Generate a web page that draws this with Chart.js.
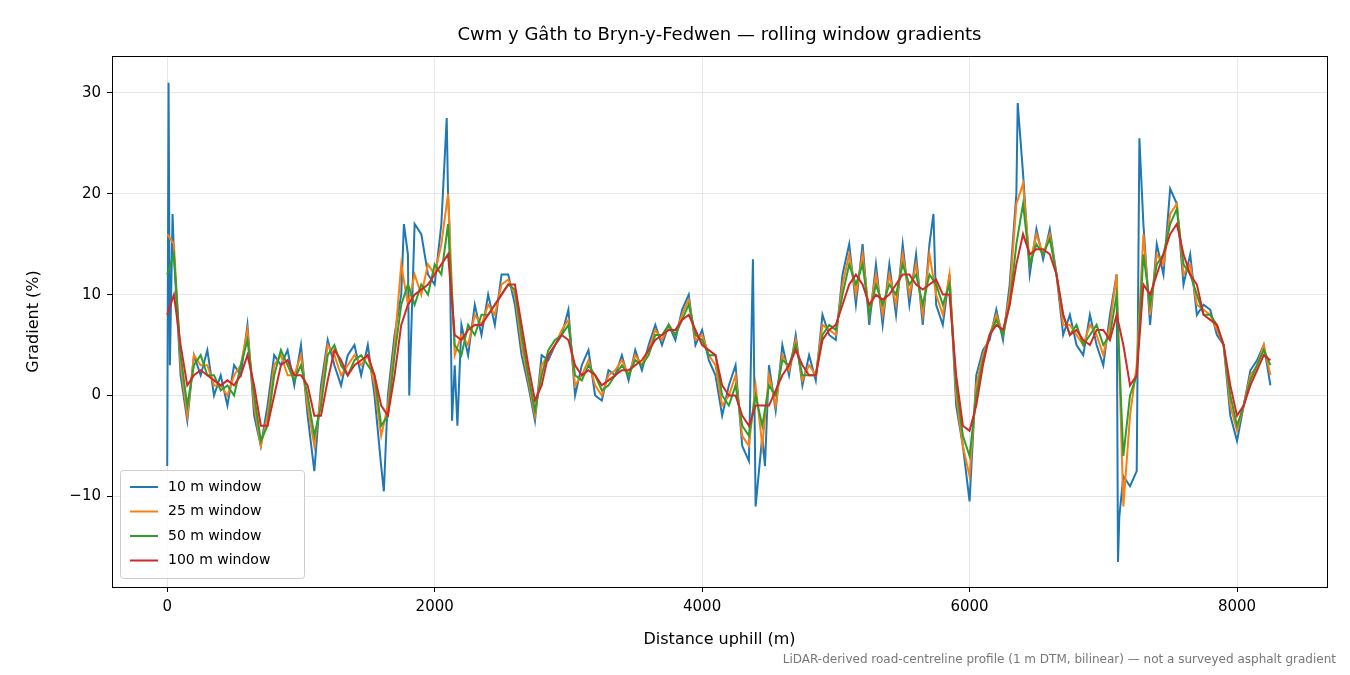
<!DOCTYPE html>
<html><head><meta charset="utf-8">
<script src="https://cdn.jsdelivr.net/npm/chart.js@4/dist/chart.umd.min.js"></script>
<style>html,body{margin:0;padding:0;background:#fff}#w{width:1350px;height:675px}</style>
</head><body><div id="w"><canvas id="c" width="1350" height="675"></canvas></div>
<script>
const title = "Cwm y Gâth to Bryn-y-Fedwen — rolling window gradients";
const xTitle = "Distance uphill (m)";
const yTitle = "Gradient (%)";
const footnote = "LiDAR-derived road-centreline profile (1 m DTM, bilinear) — not a surveyed asphalt gradient";
const seriesNames = ["10 m window","25 m window","50 m window","100 m window"];
const colors = ["#1f77b4","#ff7f0e","#2ca02c","#d62728"];
const xTicks = [0,2000,4000,6000,8000];
const yTicks = [-10,0,10,20,30];
const gridStep = 50; // distance grid (m) for the arrays below, starting at 0

const w100 = [8,10,5,1,2,2.5,2,1.5,1,1.5,1,2,4,1,-3,-3,0,3,3.5,2,2,1,-2,-2,1.5,4.5,3.5,2,3,3.5,4,2,-1,-2,2,7,9,10,10.5,11,12,13,14,6,5.5,6.5,7,7,8,9,10,11,11,7,3,-0.5,1,4,5,6,5.5,3,2,2.5,2,1,1.5,2,2.5,2.5,3,3.5,4.5,5.5,6,6.5,6.5,7.5,8,6.5,5,4.5,4,1,0,0,-2,-3,-1,-1,-1,0.5,2,3,4.5,3,2,2,5.5,6.5,7,9,11,12,11,9,10,9.5,10,11,12,12,11,10.5,11,11.5,10,10,2,-3,-3.5,-1,3,6,7,6.5,9,13,16,14,14.5,14.5,14,12,8,6,6.5,5.5,5,6.5,6.5,5.5,8,5,1,2,11,10,12,14,16,17,14,12,11,8,7.5,7,5,1,-2,-1,1,2.5,4,3.5];
const w50 = [12,14,4,-1,3,4,2,2,0.5,1,0,3,5.5,0,-4.5,-3,2,4.5,3,1.5,3,0,-4,-1,4,5,3,2,3.5,4,3,2,-3,-2,4,9,11,9,11,10,13,12,17,5,4,7,6,8,8,9,10,11,10.5,6,2,-1.5,2,4.5,5.5,6,7,2,1.5,3,2,0.5,1,2,3,2,3.5,3,4,6,6,7,6,7.5,9,6,5.5,4,4,0,-1,1,-3,-4,0,-3,1,0,3.5,3,5,2,2,2,6,7,6.5,10,13,11,13,8,11,9,11,10,13,11,12,9,12,11,9,11,1,-4,-6,0,3.5,6,7.5,6,9,15,19,13,15,14,15.5,12,8,6,7,5,6,7,5,6,10,-6,0,2,14,9,13,14,17,18.5,13,12,10,8,8,7,5,0,-3,-1,1.5,3,4.5,3];
const w25 = [16,15,3,-2,4,3,3,1,1,0,2,3,6.5,-1,-5,-2,3,4,2,2,4,-1,-5,0,5,4,2,3,4,3,4,1,-4,-1,5,13,9,12,10,13,12,15,20,4,6,5,8,7,9,8,11,11.5,10,5,1.5,-2,3,4,5,6.5,7.5,1,2,3.5,1,0,2,2.5,3.5,2,4,3,4.5,6.5,5.5,7,6,8,9.5,5.5,6,4,3,-1,0,2,-4,-5,1,-5,2,-1,4,2.5,5.5,1.5,3,2,7,6.5,6,11,14,10,14,8,12,8,12,9,14,10,13,8,14,10,8,12,0,-5,-8,1,4,6,8,6,10,19,21,13,16,14,16,12,7,7,6,5,7,6,4,7,12,-11,-2,3,16,8,14,13,18,19,12,13,9,8.5,8,6.5,5,-1,-3.5,-1,2,3,5,2];
const w10 = [12,14,2,-2.5,4,2,4.5,0,2,-1,3,2,7,-2,-5,-1,4,3,4.5,1,5,-2,-6,1,5.5,3,1,4,5,2,5,0,-5,0,6,10,14,8,16,12,11,17,20,3,7,4,9,6,10,7,12,12,9,4,1,-2.5,4,3.5,5,6,8.5,0,3,4.5,0,-0.5,2.5,2,4,1.5,4.5,2.5,5,7,5,7,5.5,8.5,10,5,6.5,3.5,2,-2,1,3,-5,-3,2,-4,3,-1.5,5,2,6,1,4,1.5,8,6,5.5,12,15,9,15,7,13,7,13,8,15,9,14,7,15,9,7,12,-1,-5,-9,2,4.5,5.5,8.5,5.5,11,20,22,12,16.5,13.5,16.5,12,6,8,5,4,8,5,3,8,12,-8,-3,4,17,7,15,12,19,19,11,14,8,9,8.5,6,5,-2,-4.5,-1,2.5,3.5,5,1];
const w10SpikeX = [0,10,20,40,1100,1600,1620,1770,1810,1850,2090,2110,2130,2170,4350,4380,4400,4470,5730,6000,6360,6600,7110,7120,7200,7250,7270,7500];
const w10SpikeY = [-7,31,3,18,-7.5,-7,-9.5,17,0,17,27.5,17,-2.5,-3,-6.5,13.5,-11,-7,18,-10.5,29,16.5,-16.5,-12,-9,-7.5,25.5,20.5];

function grid(vals){ return vals.map((v,i)=>({x:i*gridStep,y:v})); }
function withSpikes(vals,sx,sy){
  const pts = grid(vals).filter(p=>!sx.includes(p.x));
  sx.forEach((x,i)=>pts.push({x:x,y:sy[i]}));
  return pts.sort((a,b)=>a.x-b.x);
}
const dataSets = [withSpikes(w10,w10SpikeX,w10SpikeY), grid(w25), grid(w50), grid(w100)];

const F = "'DejaVu Sans', sans-serif";
const L=112, R=1327, T=56, B=587;

const deco = {
  id:'deco',
  afterDraw(ch){
    const c=ch.ctx, a=ch.chartArea;
    c.save();
    c.strokeStyle='#000'; c.lineWidth=1;
    c.strokeRect(a.left+0.5,a.top+0.5,a.right-a.left,a.bottom-a.top);
    c.fillStyle='#000'; c.font='18px '+F; c.textAlign='center'; c.textBaseline='middle';
    c.fillText(title,(a.left+a.right)/2,35);
    c.font='16px '+F;
    c.fillText(xTitle,(a.left+a.right)/2,640);
    c.save(); c.translate(34,(a.top+a.bottom)/2); c.rotate(-Math.PI/2); c.fillText(yTitle,0,0); c.restore();
    c.fillStyle='#777'; c.font='12px '+F; c.textAlign='right';
    c.fillText(footnote,1336,660);
    // legend
    const lx=a.left+8, ly=470, lw=184, lh=108;
    c.fillStyle='rgba(255,255,255,0.85)'; c.strokeStyle='#ccc'; c.lineWidth=1;
    c.beginPath(); c.roundRect(lx+0.5,ly+0.5,lw,lh,3); c.fill(); c.stroke();
    c.textAlign='left'; c.font='14px '+F; c.fillStyle='#000';
    seriesNames.forEach((n,i)=>{
      const y=ly+17+i*24.5;
      c.strokeStyle=colors[i]; c.lineWidth=2;
      c.beginPath(); c.moveTo(lx+10,y); c.lineTo(lx+38,y); c.stroke();
      c.fillText(n,lx+48,y);
    });
    c.restore();
  }
};

new Chart(document.getElementById('c'),{
  type:'line',
  data:{datasets:dataSets.map((d,i)=>({label:seriesNames[i],data:d,borderColor:colors[i],backgroundColor:colors[i],borderWidth:2,pointRadius:0,tension:0,order:3-i}))},
  options:{
    responsive:false,animation:false,devicePixelRatio:1,
    layout:{padding:{top:T,right:1350-R,left:0,bottom:0}},
    plugins:{legend:{display:false},tooltip:{enabled:false},title:{display:false}},
    scales:{
      x:{type:'linear',min:-413,max:8673,
        afterBuildTicks(s){s.ticks=xTicks.map(v=>({value:v}));},
        afterFit(s){s.height=675-B;},
        grid:{color:'#e6e6e6',tickColor:'#000',tickLength:5},
        border:{display:false},
        ticks:{color:'#000',font:{family:F,size:15},padding:6,maxRotation:0,callback:v=>String(v)}},
      y:{min:-18.99,max:33.66,
        afterBuildTicks(s){s.ticks=yTicks.map(v=>({value:v}));},
        afterFit(s){s.width=L;},
        grid:{color:'#e6e6e6',tickColor:'#000',tickLength:5},
        border:{display:false},
        ticks:{color:'#000',font:{family:F,size:15},padding:6,callback:v=>String(v).replace('-','\u2212')}}
    }
  },
  plugins:[deco]
});
</script></body></html>
